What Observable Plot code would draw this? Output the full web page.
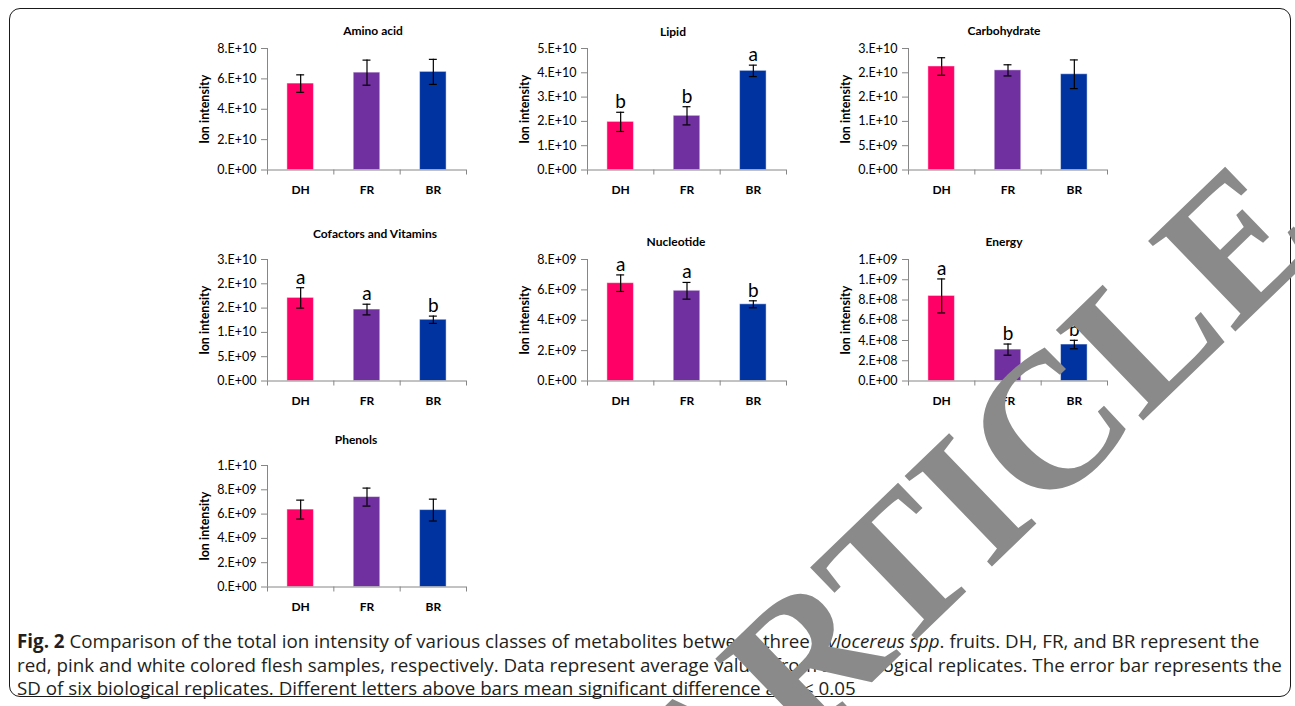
<!DOCTYPE html>
<html><head><meta charset="utf-8">
<script src="https://cdn.jsdelivr.net/npm/d3@7"></script>
<script src="https://cdn.jsdelivr.net/npm/@observablehq/plot@0.6"></script>
<style>
body{margin:0;background:#fff;}
#page{position:relative;width:1295px;height:706px;overflow:hidden;font-family:Lato,sans-serif;background:#fff;}
#box{position:absolute;left:9px;top:8px;width:1282px;height:689px;border:1.6px solid #1a1a1a;border-radius:11px;box-sizing:border-box;}
.panel{position:absolute;}
.cap{position:absolute;left:17px;font-family:"Open Sans",sans-serif;font-size:16px;color:#231f20;white-space:nowrap;line-height:23.5px;}
#wm{position:absolute;left:0;top:0;pointer-events:none;}
</style></head><body>
<div id="page">
<div id="box"></div>
<div id="panels"></div>
<div class="cap" id="cap1" style="top:629px"><b>Fig. 2</b> Comparison of the total ion intensity of various classes of metabolites between three <i>Hylocereus</i> <i>spp</i>. fruits. DH, FR, and BR represent the</div>
<div class="cap" id="cap2" style="top:652.5px">red, pink and white colored flesh samples, respectively. Data represent average values from six biological replicates. The error bar represents the</div>
<div class="cap" id="cap3" style="top:676px">SD of six biological replicates. Different letters above bars mean significant difference at <i>P</i> &lt; 0.05</div>
<svg id="wm" width="1295" height="706"><text id="wmtext" x="0" y="0" text-anchor="middle" font-family="Liberation Serif" font-weight="bold" font-size="192" fill="#8a8a8a" transform="translate(968,500) rotate(-44)" dominant-baseline="central">ARTICLE</text></svg>
</div>
<script>
// ---- data ----
const groups = ["DH", "FR", "BR"];
const groupColors = ["#FF0066", "#7030A0", "#0033A0"];
const yAxisLabel = "Ion intensity";

const aminoMean = [5.69e10, 6.41e10, 6.46e10];
const aminoSD = [0.575e10, 0.825e10, 0.825e10];
const aminoTicks = [0, 2e10, 4e10, 6e10, 8e10];
const aminoTickLabels = ["0.E+00", "2.E+10", "4.E+10", "6.E+10", "8.E+10"];

const lipidMean = [1.98e10, 2.23e10, 4.08e10];
const lipidSD = [0.395e10, 0.375e10, 0.235e10];
const lipidLetters = ["b", "b", "a"];
const lipidTicks = [0, 1e10, 2e10, 3e10, 4e10, 5e10];
const lipidTickLabels = ["0.E+00", "1.E+10", "2.E+10", "3.E+10", "4.E+10", "5.E+10"];

const carbMean = [2.13e10, 2.05e10, 1.97e10];
const carbSD = [0.18e10, 0.115e10, 0.295e10];
const carbTicks = [0, 5e9, 1e10, 1.5e10, 2e10, 2.5e10];
const carbTickLabels = ["0.E+00", "5.E+09", "1.E+10", "2.E+10", "2.E+10", "3.E+10"];

const cofMean = [1.71e10, 1.47e10, 1.26e10];
const cofSD = [0.21e10, 0.11e10, 0.075e10];
const cofLetters = ["a", "a", "b"];
const cofTicks = [0, 5e9, 1e10, 1.5e10, 2e10, 2.5e10];
const cofTickLabels = ["0.E+00", "5.E+09", "1.E+10", "2.E+10", "2.E+10", "3.E+10"];

const nucMean = [6.44e9, 5.94e9, 5.05e9];
const nucSD = [0.545e9, 0.55e9, 0.23e9];
const nucLetters = ["a", "a", "b"];
const nucTicks = [0, 2e9, 4e9, 6e9, 8e9];
const nucTickLabels = ["0.E+00", "2.E+09", "4.E+09", "6.E+09", "8.E+09"];

const energyMean = [8.4e8, 3.1e8, 3.6e8];
const energySD = [1.68e8, 0.55e8, 0.42e8];
const energyLetters = ["a", "b", "b"];
const energyTicks = [0, 2e8, 4e8, 6e8, 8e8, 1e9, 1.2e9];
const energyTickLabels = ["0.E+00", "2.E+08", "4.E+08", "6.E+08", "8.E+08", "1.E+09", "1.E+09"];

const phenMean = [6.37e9, 7.40e9, 6.33e9];
const phenSD = [0.78e9, 0.74e9, 0.90e9];
const phenTicks = [0, 2e9, 4e9, 6e9, 8e9, 1e10];
const phenTickLabels = ["0.E+00", "2.E+09", "4.E+09", "6.E+09", "8.E+09", "1.E+10"];

const panelTitles = ["Amino acid", "Lipid", "Carbohydrate", "Cofactors and Vitamins", "Nucleotide", "Energy", "Phenols"];

// ---- layout (positions only) ----
const colAxisX = [266.5, 587.3, 907.7];
const rowAxisTop = [48.3, 259, 465];
const frameW = 199, frameH = 121.5;
const mL = 80, mT = 40, mR = 10, mB = 32;

const panels = [
  {title: panelTitles[0], mean: aminoMean, sd: aminoSD, letters: null, ticks: aminoTicks, labels: aminoTickLabels, col: 0, row: 0, tdx: 6, tdy: -17},
  {title: panelTitles[1], mean: lipidMean, sd: lipidSD, letters: lipidLetters, ticks: lipidTicks, labels: lipidTickLabels, col: 1, row: 0, tdx: -14, tdy: -16},
  {title: panelTitles[2], mean: carbMean, sd: carbSD, letters: null, ticks: carbTicks, labels: carbTickLabels, col: 2, row: 0, tdx: -4, tdy: -17},
  {title: panelTitles[3], mean: cofMean, sd: cofSD, letters: cofLetters, ticks: cofTicks, labels: cofTickLabels, col: 0, row: 1, tdx: 8, tdy: -25},
  {title: panelTitles[4], mean: nucMean, sd: nucSD, letters: nucLetters, ticks: nucTicks, labels: nucTickLabels, col: 1, row: 1, tdx: -11, tdy: -17},
  {title: panelTitles[5], mean: energyMean, sd: energySD, letters: energyLetters, ticks: energyTicks, labels: energyTickLabels, col: 2, row: 1, tdx: -4, tdy: -17},
  {title: panelTitles[6], mean: phenMean, sd: phenSD, letters: null, ticks: phenTicks, labels: phenTickLabels, col: 0, row: 2, tdx: -11, tdy: -25}
];

const host = document.getElementById("panels");
const axisGrey = "#868686";

for (const p of panels) {
  const rows = groups.map((g, i) => ({group: g, i, mean: p.mean[i], sd: p.sd[i], letter: p.letters ? p.letters[i] : null}));
  const labelMap = new Map(p.ticks.map((t, k) => [t, p.labels[k]]));
  const yMax = p.ticks[p.ticks.length - 1];
  const chart = Plot.plot({
    width: mL + frameW + mR,
    height: mT + frameH + mB,
    marginLeft: mL, marginTop: mT, marginRight: mR, marginBottom: mB,
    style: {fontFamily: "Lato, sans-serif", color: "#000", background: "transparent", overflow: "visible"},
    x: {domain: [0, 3]},
    y: {domain: [0, yMax]},
    color: {domain: groups, range: groupColors},
    marks: [
      Plot.rect(rows, {x1: d => d.i + 0.3, x2: d => d.i + 0.7, y1: 0, y2: "mean", fill: "group", stroke: "#ffffff", strokeOpacity: 0.45, strokeWidth: 1}),
      Plot.ruleY([0], {stroke: axisGrey, strokeWidth: 1}),
      Plot.ruleX([0], {stroke: axisGrey, strokeWidth: 1}),
      Plot.axisY({ticks: p.ticks, tickFormat: d => labelMap.get(d), tickSize: 6, tickPadding: 5, stroke: axisGrey, fill: "#000", fontSize: 12.5, label: null}),
      Plot.axisX({ticks: [0, 1, 2, 3], tickFormat: () => "", tickSize: 5, stroke: axisGrey, label: null}),
      Plot.axisX({ticks: [0.5, 1.5, 2.5], tickFormat: d => groups[Math.floor(d)], tickSize: 0, tickPadding: 15, fill: "#000", fontSize: 12, fontWeight: "bold", label: null}),
      Plot.ruleX(rows, {x: d => d.i + 0.5, y1: d => d.mean - d.sd, y2: d => d.mean + d.sd, stroke: "#000", strokeWidth: 1.2}),
      Plot.ruleY(rows, {y: d => d.mean + d.sd, x1: d => d.i + 0.44, x2: d => d.i + 0.56, stroke: "#000", strokeWidth: 1.2}),
      Plot.ruleY(rows, {y: d => d.mean - d.sd, x1: d => d.i + 0.44, x2: d => d.i + 0.56, stroke: "#000", strokeWidth: 1.2}),
      Plot.text(rows.filter(d => d.letter), {x: d => d.i + 0.5, y: d => d.mean + d.sd, text: "letter", lineAnchor: "bottom", dy: -4, fontSize: 19, fill: "#000"}),
      Plot.text([p.title], {text: d => d, frameAnchor: "top", dx: p.tdx, dy: p.tdy, lineAnchor: "middle", fontWeight: "bold", fontSize: 12, fill: "#000"}),
      Plot.text([yAxisLabel], {text: d => d, frameAnchor: "left", textAnchor: "middle", rotate: -90, dx: -63, fontWeight: "bold", fontSize: 12.5, fill: "#000"})
    ]
  });
  const wrap = document.createElement("div");
  wrap.className = "panel";
  wrap.style.left = (colAxisX[p.col] - mL) + "px";
  wrap.style.top = (rowAxisTop[p.row] - mT) + "px";
  wrap.appendChild(chart);
  host.appendChild(wrap);
}

// fit caption width to the reference line length
const c1 = document.getElementById("cap1");
const w1 = c1.getBoundingClientRect().width;
const scale = 1243 / w1;
for (const id of ["cap1", "cap2", "cap3"]) {
  document.getElementById(id).style.fontSize = (16 * scale) + "px";
}
</script>
</body></html>
